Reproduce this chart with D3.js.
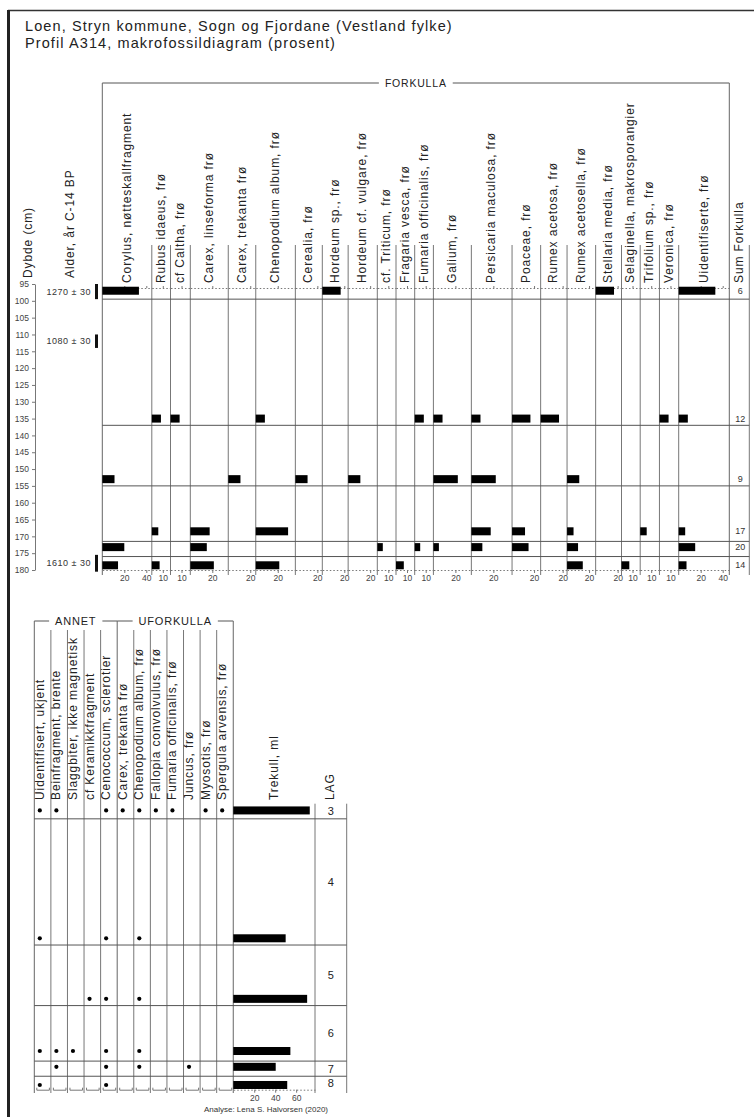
<!DOCTYPE html>
<html>
<head>
<meta charset="utf-8">
<script src="https://cdn.jsdelivr.net/npm/d3@7"></script>
<style>
body { margin: 0; background: #fff; }
svg text { font-family: "Liberation Sans", Arial, sans-serif; fill: #222; }
.hdr { font-size: 12px; letter-spacing: 0.9px; }
.axis path, .axis line { stroke: #777; }
.axis text { font-size: 8.5px; fill: #444; font-family: "Liberation Sans", Arial, sans-serif; }
</style>
</head>
<body>
<svg id="chart" width="754" height="1117"></svg>
<script>
// ---------------------------------------------------------------------------
// Data

// depth of each sample (cm) and the layer (LAG) boundaries
var sampleDepths = [97, 135, 153, 168.5, 173.2, 178.6];
var layerNames = ["3", "4", "5", "6", "7", "8"];
var layerBounds = [95, 99.5, 137, 155, 171.5, 176, 180];
var depthTicks = [95, 100, 105, 110, 115, 120, 125, 130, 135, 140, 145, 150, 155, 160, 165, 170, 175, 180];

// C-14 dates
var dateLabels = ["1270 ± 30", "1080 ± 30", "1610 ± 30"];
var dateTop = [95, 110, 175.5];
var dateBottom = [99.5, 114, 180.5];

// FORKULLA (percent)
var forkullaTaxa = [
    "Corylus, nøtteskallfragment", "Rubus idaeus, frø", "cf Caltha, frø", "Carex, linseforma frø",
    "Carex, trekanta frø", "Chenopodium album, frø", "Cerealia, frø", "Hordeum sp., frø",
    "Hordeum cf. vulgare, frø", "cf. Triticum, frø", "Fragaria vesca, frø", "Fumaria officinalis, frø",
    "Galium, frø", "Persicaria maculosa, frø", "Poaceae, frø", "Rumex acetosa, frø",
    "Rumex acetosella, frø", "Stellaria media, frø", "Selaginella, makrosporangier", "Trifolium sp., frø",
    "Veronica, frø", "Uidentifiserte, frø"
];
// axis maximum of every column (percent)
var forkullaMax = [45, 17, 18, 34.5, 25, 36, 24.5, 23.5, 26.5, 17, 17, 17, 34.5, 37, 26, 24, 26, 23.5, 17, 17.5, 17.5, 46];
var forkullaValues = [
    [33.3, 0, 11.1, 0, 20, 14.3],
    [0, 8.3, 0, 5.9, 0, 7.1],
    [0, 8.3, 0, 0, 0, 0],
    [0, 0, 0, 17.6, 15, 21.4],
    [0, 0, 11.1, 0, 0, 0],
    [0, 8.3, 0, 29.4, 0, 21.4],
    [0, 0, 11.1, 0, 0, 0],
    [16.7, 0, 0, 0, 0, 0],
    [0, 0, 11.1, 0, 0, 0],
    [0, 0, 0, 0, 5, 0],
    [0, 0, 0, 0, 0, 7.1],
    [0, 8.3, 0, 0, 5, 0],
    [0, 8.3, 22.2, 0, 5, 0],
    [0, 8.3, 22.2, 17.6, 10, 0],
    [0, 16.7, 0, 11.8, 15, 0],
    [0, 16.7, 0, 0, 0, 0],
    [0, 0, 11.1, 5.9, 10, 14.3],
    [16.7, 0, 0, 0, 0, 0],
    [0, 0, 0, 0, 0, 7.1],
    [0, 0, 0, 5.9, 0, 0],
    [0, 8.3, 0, 0, 0, 0],
    [33.3, 8.3, 0, 5.9, 15, 7.1]
];
var sumForkulla = [6, 12, 9, 17, 20, 14];

// ANNET and UFORKULLA (present / absent per layer)
var annetTaxa = ["Uidentifisert, ukjent", "Beinfragment, brente", "Slaggbiter, ikke magnetisk", "cf Keramikkfragment", "Cenococcum, sclerotier"];
var uforkullaTaxa = ["Carex, trekanta frø", "Chenopodium album, frø", "Fallopia convolvulus, frø", "Fumaria officinalis, frø", "Juncus, frø", "Myosotis, frø", "Spergula arvensis, frø"];
var presence = [
    [1, 1, 0, 1, 0, 1],
    [1, 0, 0, 1, 1, 0],
    [0, 0, 0, 1, 0, 0],
    [0, 0, 1, 0, 0, 0],
    [1, 1, 1, 1, 1, 1],
    [1, 0, 0, 0, 0, 0],
    [1, 1, 1, 1, 1, 0],
    [1, 0, 0, 0, 0, 0],
    [1, 0, 0, 0, 0, 0],
    [0, 0, 0, 0, 1, 0],
    [1, 0, 0, 0, 0, 0],
    [1, 0, 0, 0, 0, 0]
];

// Trekull (ml)
var trekull = [73, 50, 70.5, 54.5, 40.5, 51.5];
var trekullMax = 78;
var trekullTicks = [20, 40, 60];

// ---------------------------------------------------------------------------
var svg = d3.select("#chart");
var y = d3.scaleLinear().domain([95, 180]).range([284, 570]);
var yLow = d3.scaleLinear().domain([95, 180]).range([803.7, 1089.7]);
var pxPerPct = 1.1;
var barH = 8;

function vline(x, y1, y2, color, w)
{
    svg.append("line").attr("x1", x).attr("x2", x).attr("y1", y1).attr("y2", y2)
        .attr("stroke", color || "#777").attr("stroke-width", w || 1);
}

function hline(x1, x2, yy, color, w)
{
    svg.append("line").attr("x1", x1).attr("x2", x2).attr("y1", yy).attr("y2", yy)
        .attr("stroke", color || "#666").attr("stroke-width", w || 1);
}

function rotText(x, yy, txt, cls)
{
    svg.append("text").attr("class", cls || "hdr")
        .attr("transform", "translate(" + x + "," + yy + ") rotate(-90)")
        .text(txt);
}

function bracket(x1, x2, yy, label, size)
{
    var t = svg.append("text").attr("x", (x1 + x2) / 2).attr("y", yy + 4)
        .attr("text-anchor", "middle").style("font-size", size + "px").style("letter-spacing", "0.8px")
        .text(label);
    var w = t.node().getComputedTextLength();
    var mid = (x1 + x2) / 2;
    hline(x1, mid - w / 2 - 6, yy, "#555");
    hline(mid + w / 2 + 6, x2, yy, "#555");
}

// frame
svg.append("rect").attr("x", 0).attr("y", 0).attr("width", 754).attr("height", 1117).attr("fill", "#fff");
hline(8, 754, 10.5, "#333", 1.5);
svg.append("rect").attr("x", 7).attr("y", 10).attr("width", 3).attr("height", 1107).attr("fill", "#222");

// title
svg.append("text").attr("x", 25).attr("y", 31).style("font-size", "14.5px").style("letter-spacing", "1.1px")
    .text("Loen, Stryn kommune, Sogn og Fjordane (Vestland fylke)");
svg.append("text").attr("x", 25).attr("y", 48).style("font-size", "14.5px").style("letter-spacing", "1.1px")
    .text("Profil A314, makrofossildiagram (prosent)");

// ---------------------------------------------------------------------------
// Upper diagram: FORKULLA
var plotLeft = 102.3;
var cols = [];
var xPos = plotLeft;
for (var i = 0; i < forkullaTaxa.length; i++)
{
    var w = forkullaMax[i] * pxPerPct;
    cols.push({ name: forkullaTaxa[i], left: xPos, width: w, max: forkullaMax[i], values: forkullaValues[i] });
    xPos += w;
}
var plotRight = xPos;
var sumRight = plotRight + 20;

bracket(plotLeft, plotRight, 83, "FORKULLA", 10.5);
vline(plotLeft, 83, 575, "#666");
vline(plotRight, 83, 575, "#666");
for (var i = 1; i < cols.length; i++)
{
    vline(cols[i].left, 245, 575);
}
vline(sumRight, 245, 575);

// layer boundaries
for (var i = 1; i < layerBounds.length - 1; i++)
{
    hline(plotLeft, sumRight, y(layerBounds[i]), "#555");
}

// depth axis
svg.append("g").attr("class", "axis").attr("transform", "translate(35,0)")
    .call(d3.axisLeft(y).tickValues(depthTicks).tickSize(3).tickSizeOuter(0))
    .call(function(g) { g.select(".domain").attr("stroke", "#bbb"); });

rotText(32, 278, "Dybde (cm)");
rotText(74, 278, "Alder, år C-14 BP");

// dates
for (var i = 0; i < dateLabels.length; i++)
{
    svg.append("text").attr("x", 91).attr("y", y((dateTop[i] + dateBottom[i]) / 2)).attr("dy", "0.35em")
        .attr("text-anchor", "end").style("font-size", "9px").style("letter-spacing", "0.5px").style("fill", "#333")
        .text(dateLabels[i]);
    svg.append("rect").attr("x", 95).attr("width", 3)
        .attr("y", y(dateTop[i])).attr("height", y(dateBottom[i]) - y(dateTop[i]))
        .attr("fill", "#111");
}

// columns
cols.forEach(function(c)
{
    var xs = d3.scaleLinear().domain([0, c.max]).range([c.left, c.left + c.width]);
    var step = c.max >= 20 ? 20 : 10;
    var ticks = d3.range(step, c.max, step);

    rotText(c.left + c.width / 2 + 3.5, 283, c.name);

    // dotted axes top and bottom
    svg.append("g").attr("class", "axis").attr("transform", "translate(0," + (y(95) + 4) + ")")
        .call(d3.axisBottom(xs).tickValues(ticks).tickSize(-2).tickSizeOuter(0).tickFormat(""))
        .call(function(g) { g.select(".domain").attr("stroke-dasharray", "1.5,2"); });
    svg.append("g").attr("class", "axis").attr("transform", "translate(0," + y(180) + ")")
        .call(d3.axisBottom(xs).tickValues(ticks).tickSize(3).tickSizeOuter(0).tickPadding(2))
        .call(function(g) { g.select(".domain").attr("stroke-dasharray", "1.5,2"); });

    svg.append("g").selectAll("rect")
        .data(c.values.map(function(v, k) { return { v: v, d: sampleDepths[k] }; }).filter(function(o) { return o.v > 0; }))
        .enter().append("rect")
        .attr("x", c.left)
        .attr("y", function(o) { return y(o.d) - barH / 2; })
        .attr("width", function(o) { return xs(o.v) - c.left; })
        .attr("height", barH)
        .attr("fill", "#000");
});

// sum column
rotText((plotRight + sumRight) / 2 + 3.5, 283, "Sum Forkulla");
svg.append("g").selectAll("text").data(sumForkulla).enter().append("text")
    .attr("x", (plotRight + sumRight) / 2 + 1)
    .attr("y", function(d, k) { return y(sampleDepths[k]); })
    .attr("dy", "0.35em").attr("text-anchor", "middle")
    .style("font-size", "9px").style("fill", "#333")
    .text(function(d) { return d; });

// ---------------------------------------------------------------------------
// Lower diagram: ANNET, UFORKULLA, Trekull, LAG
var lowTaxa = annetTaxa.concat(uforkullaTaxa);
var lowLeft = 34.3;
var lowColW = 16.58;
var trekLeft = lowLeft + lowColW * lowTaxa.length;
var trekRight = 315;
var lagRight = 346.7;
var bracketY = 621;

bracket(lowLeft, lowLeft + lowColW * annetTaxa.length, bracketY, "ANNET", 11);
bracket(lowLeft + lowColW * annetTaxa.length, trekLeft, bracketY, "UFORKULLA", 11);
vline(lowLeft, bracketY, 1093, "#666");
vline(lowLeft + lowColW * annetTaxa.length, bracketY, 1093, "#666");
vline(trekLeft, bracketY, 1093, "#666");
for (var i = 1; i < lowTaxa.length; i++)
{
    if (i == annetTaxa.length) continue;
    vline(lowLeft + lowColW * i, 630, 1093);
}
vline(trekRight, yLow(95), 1093);
vline(lagRight, yLow(95), 1093);

for (var i = 1; i < layerBounds.length - 1; i++)
{
    hline(lowLeft, lagRight, yLow(layerBounds[i]), "#555");
}

lowTaxa.forEach(function(name, i)
{
    var left = lowLeft + lowColW * i;
    rotText(left + 9.5, 800, name);
    var xs = d3.scaleLinear().domain([0, 1]).range([left + 2, left + lowColW - 2]);
    svg.append("g").attr("class", "axis").attr("transform", "translate(0," + yLow(180) + ")")
        .call(d3.axisBottom(xs).tickValues([]).tickSizeOuter(-2));
    svg.append("g").selectAll("circle")
        .data(presence[i].map(function(p, k) { return { p: p, d: sampleDepths[k] }; }).filter(function(o) { return o.p; }))
        .enter().append("circle")
        .attr("cx", left + 5.5)
        .attr("cy", function(o) { return yLow(o.d); })
        .attr("r", 2.1)
        .attr("fill", "#000");
});

// Trekull
var xt = d3.scaleLinear().domain([0, trekullMax]).range([trekLeft, trekRight]);
rotText((trekLeft + trekRight) / 2 + 3.5, 800, "Trekull, ml");
svg.append("g").selectAll("rect").data(trekull).enter().append("rect")
    .attr("x", trekLeft)
    .attr("y", function(d, k) { return yLow(sampleDepths[k]) - barH / 2; })
    .attr("width", function(d) { return xt(d) - trekLeft; })
    .attr("height", barH)
    .attr("fill", "#000");
svg.append("g").attr("class", "axis").attr("transform", "translate(0," + yLow(180) + ")")
    .call(d3.axisBottom(xt).tickValues(trekullTicks).tickSize(3).tickSizeOuter(0).tickPadding(2))
    .call(function(g) { g.select(".domain").attr("stroke-dasharray", "1.5,2"); });

// LAG
rotText((trekRight + lagRight) / 2 + 3.5, 800, "LAG");
svg.append("g").selectAll("text").data(layerNames).enter().append("text")
    .attr("x", (trekRight + lagRight) / 2)
    .attr("y", function(d, k) { return yLow((layerBounds[k] + layerBounds[k + 1]) / 2); })
    .attr("dy", "0.35em").attr("text-anchor", "middle")
    .style("font-size", "11px")
    .text(function(d) { return d; });

svg.append("text").attr("x", 266).attr("y", 1112).attr("text-anchor", "middle")
    .style("font-size", "8px").style("fill", "#333")
    .text("Analyse: Lena S. Halvorsen (2020)");
</script>
</body>
</html>
